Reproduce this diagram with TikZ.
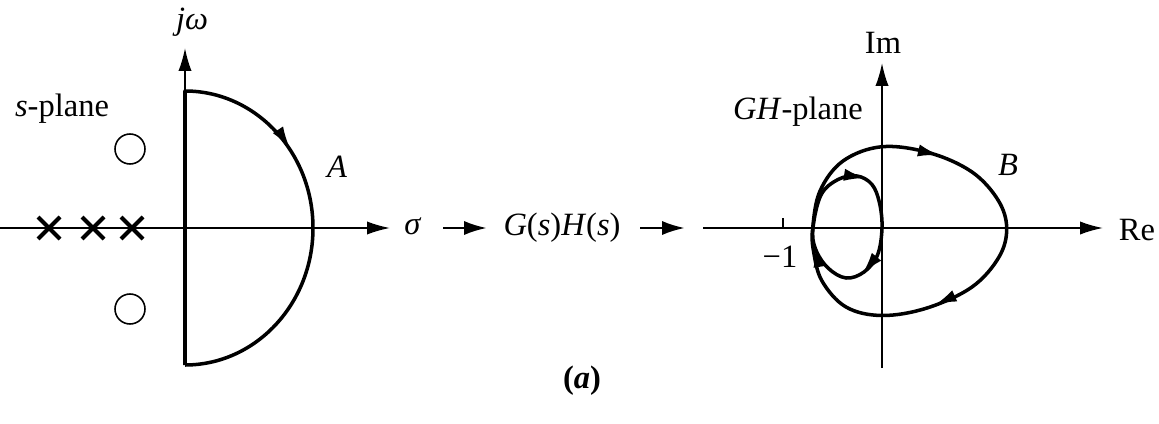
\documentclass[tikz,border=0pt]{standalone}
\usepackage{fontspec}
\setmainfont{Liberation Serif}
\usetikzlibrary{arrows.meta}
\begin{document}
\begin{tikzpicture}[x=0.02cm,y=0.02cm,
  axis/.style={line width=1pt,-{Latex[length=13pt,width=7.5pt]}},
  thin/.style={line width=1pt},
  contour/.style={line width=2pt,line join=round},
  tipmark/.style={line width=1.2pt,-{Latex[length=12pt,width=7pt]}},
  lbl/.style={inner sep=0pt,font=\fontsize{18.5}{22}\selectfont},
  pole/.style={line width=2.4pt},
  zero/.style={circle,draw,line width=0.9pt,minimum size=0.6cm,inner sep=0pt},
  flow/.style={line width=1.4pt,-{Latex[length=13pt,width=8pt]}}]
\useasboundingbox (0,0) rectangle (1159,423);

% ---------- s-plane ----------
\coordinate (sL) at (0,195);
\coordinate (sR) at (390,195);
\coordinate (jB) at (185,332);
\coordinate (jT) at (185,375);
\coordinate (cB) at (185,58);
\draw[axis] (sL) -- (sR);
\draw[axis] (jB) -- (jT);
\draw[contour] (cB) -- (jB) arc[start angle=90,end angle=-90,x radius=128,y radius=137];
\coordinate (aS) at (282.0,287.0);
\coordinate (aT) at (289.5,275.5);
\draw[tipmark] (aS) -- (aT);

\foreach \x in {49,93,132}
  \draw[pole] (\x-11,184) -- (\x+11,206) (\x-11,206) -- (\x+11,184);
\node[zero] (z1) at (130,274) {};
\node[zero] (z2) at (130,114) {};

\node[lbl] (jw) at (192,401) {\textit{jω}};
\node[lbl] (A) at (337,256) {\textit{A}};
\node[lbl] (splane) at (62,314) {\textit{s}-plane};
\node[lbl] (sig) at (413,197) {\textit{σ}};

% ---------- mapping ----------
\node[lbl] (GH) at (562,195) {\textit{G}(\textit{s})\textit{H}(\textit{s})};
\coordinate (f1s) at (443,195);
\coordinate (f1e) at (487,195);
\coordinate (f2s) at (640,195);
\coordinate (f2e) at (685,195);
\draw[flow] (f1s) -- (f1e);
\draw[flow] (f2s) -- (f2e);

% ---------- GH-plane ----------
\coordinate (rL) at (703,195);
\coordinate (rR) at (1103,195);
\coordinate (iB) at (882,55);
\coordinate (iT) at (882,360);
\draw[axis] (rL) -- (rR);
\draw[axis] (iB) -- (iT);
\coordinate (t0) at (783,195);
\coordinate (t1) at (783,205);
\draw[thin] (t0) -- (t1);

\node[lbl] (m1) at (780,166) {−1};
\node[lbl] (Re) at (1137,193) {Re};
\node[lbl] (Im) at (883,380) {Im};
\node[lbl] (ghp) at (798,311) {\textit{GH}-plane};
\node[lbl] (B) at (1008,258) {\textit{B}};

\draw[contour] plot[smooth cycle, tension=0.6] coordinates {
  (812.7,195) (820,232) (843,262) (882,276.3) (930,270) (972,251)
  (998,223) (1006.7,195) (999,166) (972,136) (927,115) (882,107.5)
  (846,116) (822,142) (813.5,172)};
\draw[contour] plot[smooth cycle, tension=0.6] coordinates {
  (813,195) (821,228) (838,243.5) (857,247) (872,238.5) (879.5,220)
  (882,195) (877.5,168) (864,151) (846,145) (828,155) (815.5,174)};

\coordinate (o1s) at (923,271.5);
\coordinate (o1t) at (939,267.8);
\draw[tipmark] (o1s) -- (o1t);
\coordinate (o2s) at (950,125);
\coordinate (o2t) at (935.5,118.4);
\draw[tipmark] (o2s) -- (o2t);
\coordinate (i1s) at (850,247.3);
\coordinate (i1t) at (865,245);
\draw[tipmark] (i1s) -- (i1t);
\coordinate (i2s) at (873,162);
\coordinate (i2t) at (863,150);
\draw[tipmark] (i2s) -- (i2t);
\coordinate (l1s) at (818.5,162);
\coordinate (l1t) at (816,177);
\draw[tipmark] (l1s) -- (l1t);

\node[lbl] (cap) at (582,42) {\bfseries(\textit{a})};
\end{tikzpicture}
\end{document}
